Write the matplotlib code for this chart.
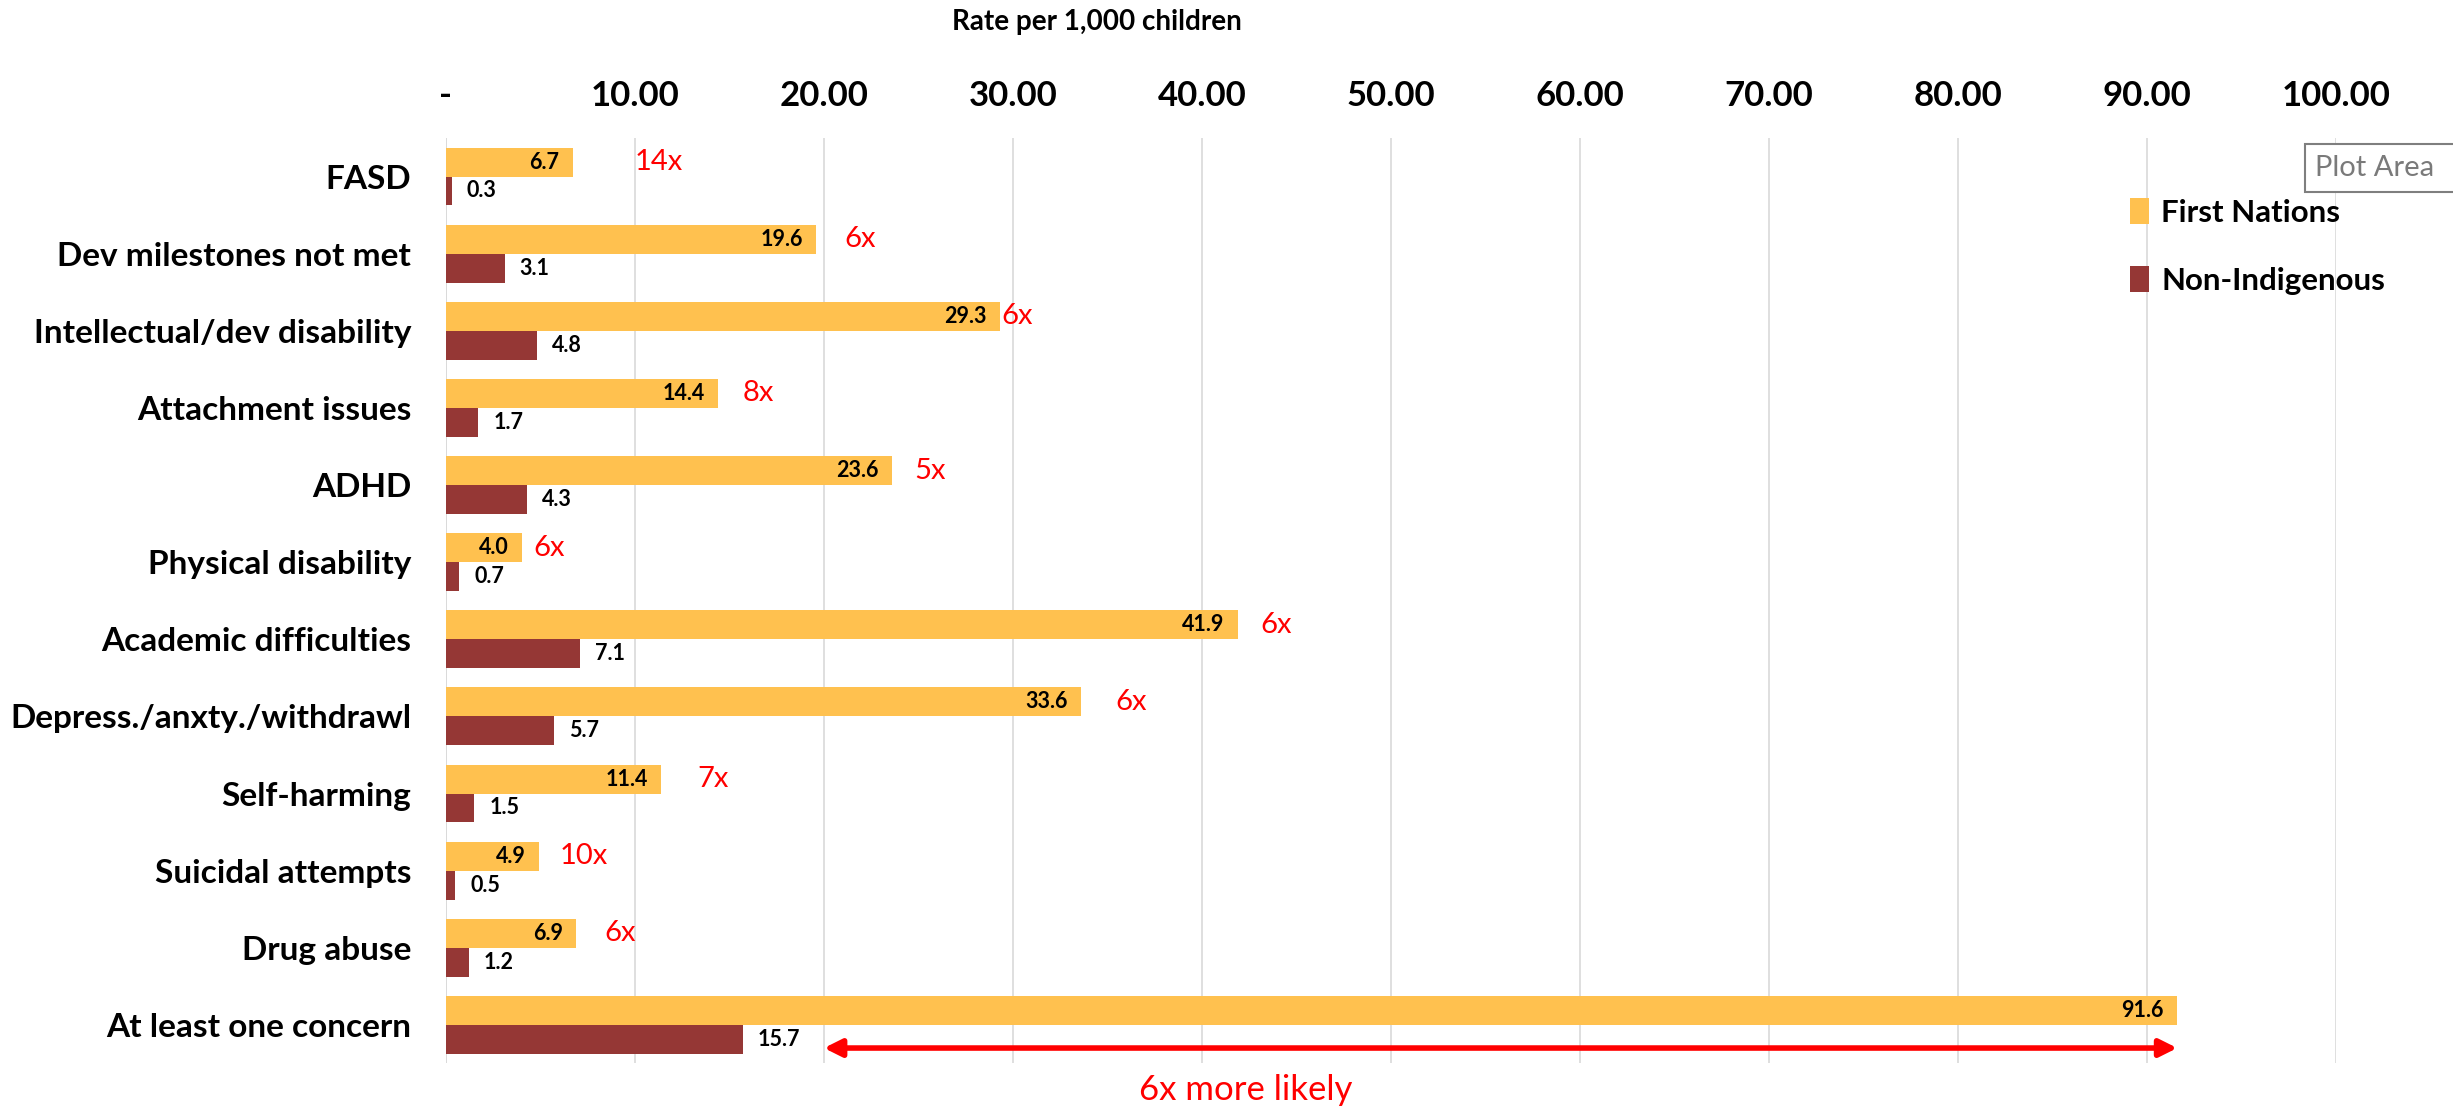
import numpy as np
import matplotlib.pyplot as plt
from matplotlib.patches import Rectangle

categories = ["FASD", "Dev milestones not met", "Intellectual/dev disability",
              "Attachment issues", "ADHD", "Physical disability",
              "Academic difficulties", "Depress./anxty./withdrawl",
              "Self-harming", "Suicidal attempts", "Drug abuse",
              "At least one concern"]
first_nations = [6.7, 19.6, 29.3, 14.4, 23.6, 4.0, 41.9, 33.6, 11.4, 4.9, 6.9, 91.6]
non_indigenous = [0.3, 3.1, 4.8, 1.7, 4.3, 0.7, 7.1, 5.7, 1.5, 0.5, 1.2, 15.7]
ratio_labels = ["14x", "6x", "6x", "8x", "5x", "6x", "6x", "6x", "7x", "10x", "6x", ""]
ratio_x = [10.0, 21.1, 29.4, 15.7, 24.8, 4.6, 43.1, 35.4, 13.3, 6.0, 8.4, 0]
xticks = [0, 10, 20, 30, 40, 50, 60, 70, 80, 90, 100]
xtick_labels = ["-"] + ["%.2f" % v for v in xticks[1:]]

YELLOW = "#FFC14F"
MAROON = "#953735"
RED = "#FF0000"

plt.rcParams['font.family'] = ['Lato', 'DejaVu Sans']

fig = plt.figure(figsize=(24.53, 11.08), dpi=100)
ax = fig.add_axes([0.1818, 0.0402, 0.7705, 0.8353])

y = np.arange(len(categories))
h = 0.375
ax.barh(y - h / 2, first_nations, height=h, color=YELLOW, label="First Nations")
ax.barh(y + h / 2, non_indigenous, height=h, color=MAROON, label="Non-Indigenous")

ax.set_xlim(0, 100)
ax.set_ylim(11.5, -0.5)
ax.set_xticks(xticks)
ax.set_xticklabels(xtick_labels, fontsize=25, fontweight="bold")
ax.xaxis.tick_top()
ax.tick_params(axis="x", length=0, pad=19)
ax.set_yticks(y)
ax.set_yticklabels(categories, fontsize=24, fontweight="bold")
ax.tick_params(axis="y", length=0, pad=25)
for s in ax.spines.values():
    s.set_visible(False)
ax.axvline(0, color="#D9D9D9", lw=1.2, zorder=0)
ax.grid(axis="x", color="#D9D9D9", lw=1.2)
ax.set_axisbelow(True)

# value labels
for i in range(len(categories)):
    ax.text(first_nations[i] - 0.7, i - h / 2, "%.1f" % first_nations[i],
            ha="right", va="center", fontsize=15.5, fontweight="bold")
    ax.text(non_indigenous[i] + 0.8, i + h / 2, "%.1f" % non_indigenous[i],
            ha="left", va="center", fontsize=15.5, fontweight="bold")
    if ratio_labels[i]:
        ax.text(ratio_x[i], i - h / 2, ratio_labels[i], ha="left", va="center",
                fontsize=21, color=RED)

# arrow for at least one concern
ax.annotate("", xy=(91.6, 11.3), xytext=(20.0, 11.3),
            arrowprops=dict(arrowstyle="<|-|>", color=RED, lw=4,
                            mutation_scale=26, shrinkA=0, shrinkB=0))
ax.text(42.3, 11.85, "6x more likely", ha="center", va="center",
        fontsize=25, color=RED, clip_on=False)

fig.text(0.447, 0.98, "Rate per 1,000 children", ha="center", va="center",
         fontsize=20, fontweight="bold")

leg = ax.legend(loc="upper left", bbox_to_anchor=(2102 / 2453, 1 - 170 / 1108),
                bbox_transform=fig.transFigure, frameon=False,
                prop=dict(weight="bold", size=22.5), handlelength=0.6,
                handleheight=0.9, handletextpad=0.4, labelspacing=1.25)

# "Plot Area" tooltip from the screenshot
fig.patches.append(Rectangle((2305 / 2453, 1 - 192 / 1108), 150 / 2453, 48 / 1108,
                             transform=fig.transFigure, fill=True,
                             facecolor="white", edgecolor="#7F7F7F", lw=1.5))
fig.text(2315 / 2453, 1 - 168 / 1108, "Plot Area", ha="left", va="center",
         fontsize=21, color="#7A7A7A")

fig.savefig("out.png", dpi=100)
